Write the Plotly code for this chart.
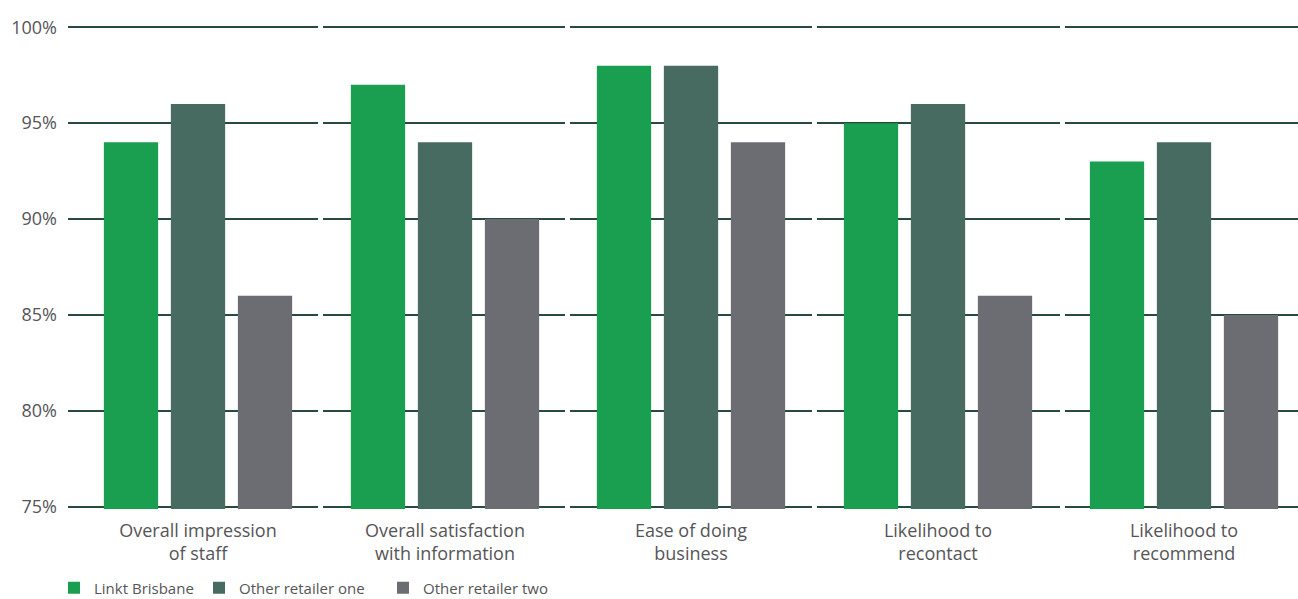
import plotly.graph_objects as go

# Survey results per service category
categories = [
    "Overall impression<br>of staff",
    "Overall satisfaction<br>with information",
    "Ease of doing<br>business",
    "Likelihood to<br>recontact",
    "Likelihood to<br>recommend",
]
series_names = ["Linkt Brisbane", "Other retailer one", "Other retailer two"]
linkt_brisbane = [94, 97, 98, 95, 93]
other_retailer_one = [96, 94, 98, 96, 94]
other_retailer_two = [86, 90, 94, 86, 85]
y_tick_values = [75, 80, 85, 90, 95, 100]
y_tick_text = ["75%", "80%", "85%", "90%", "95%", "100%"]

series_values = [linkt_brisbane, other_retailer_one, other_retailer_two]
series_colors = ["#1a9f50", "#476b60", "#6b6d73"]

# Layout geometry (pixels) for the five panels
W, H = 1298, 599
plot_left, plot_right = 68, 1298
# small padding so the 75% and 100% grid lines are kept
y_lo, y_hi = 74.88, 100.12
plot_top, plot_bottom = 25, 509
panel_edges = [(68, 318), (323, 565), (570, 812), (817, 1060), (1065, 1298)]
group_centres = [198, 445, 691, 938, 1184]
legend_x_px = [54, 199, 383]
legend_y_px = 588
unit_px = 246.0
plot_w = plot_right - plot_left

text_color = "#555558"
grid_color = "#264a3c"
font_family = "Open Sans, Noto Sans, sans-serif"

fig = go.Figure()
layout = dict(
    width=W,
    height=H,
    margin=dict(l=plot_left, r=W - plot_right, t=plot_top, b=H - plot_bottom,
                autoexpand=False),
    paper_bgcolor="white",
    plot_bgcolor="white",
    barmode="group",
    bargap=1 - 201 / unit_px,
    bargroupgap=0.19,
    font=dict(family=font_family, color=text_color),
    showlegend=True,
)

# One legend per series so each entry sits at its own position
legend_keys = ["legend", "legend2", "legend3"]
for key, lx in zip(legend_keys, legend_x_px):
    layout[key] = dict(
        orientation="h",
        xref="container",
        yref="container",
        x=lx / W,
        xanchor="left",
        y=(H - legend_y_px) / H,
        yanchor="middle",
        font=dict(size=15, color=text_color),
        itemwidth=30,
        bgcolor="rgba(0,0,0,0)",
        borderwidth=0,
    )

for i, (cat, (left, right), centre) in enumerate(zip(categories, panel_edges, group_centres)):
    n = "" if i == 0 else str(i + 1)
    xa, ya = "x" + n, "y" + n
    for name, vals, color, lg in zip(series_names, series_values, series_colors, legend_keys):
        fig.add_trace(
            go.Bar(
                x=[cat],
                y=[vals[i]],
                name=name,
                marker=dict(color=color, line=dict(width=0)),
                xaxis=xa,
                yaxis=ya,
                showlegend=(i == 0),
                legend=lg,
                legendgroup=name,
            )
        )
    layout["xaxis" + n] = dict(
        domain=[(left - plot_left) / plot_w, (right - plot_left) / plot_w],
        anchor=ya,
        type="category",
        range=[(left - centre) / unit_px, (right - centre) / unit_px],
        showgrid=False,
        showline=False,
        zeroline=False,
        ticks="",
        ticklabelstandoff=9,
        tickfont=dict(size=18, color=text_color),
        fixedrange=True,
    )
    layout["yaxis" + n] = dict(
        anchor=xa,
        range=[y_lo, y_hi],
        tickmode="array",
        tickvals=y_tick_values,
        ticktext=y_tick_text,
        showticklabels=(i == 0),
        ticklabelstandoff=10,
        tickfont=dict(size=18, color=text_color),
        showgrid=True,
        gridcolor=grid_color,
        gridwidth=2,
        zeroline=False,
        showline=False,
        ticks="",
        fixedrange=True,
    )

fig.update_layout(**layout)
fig.write_html("out.html")
